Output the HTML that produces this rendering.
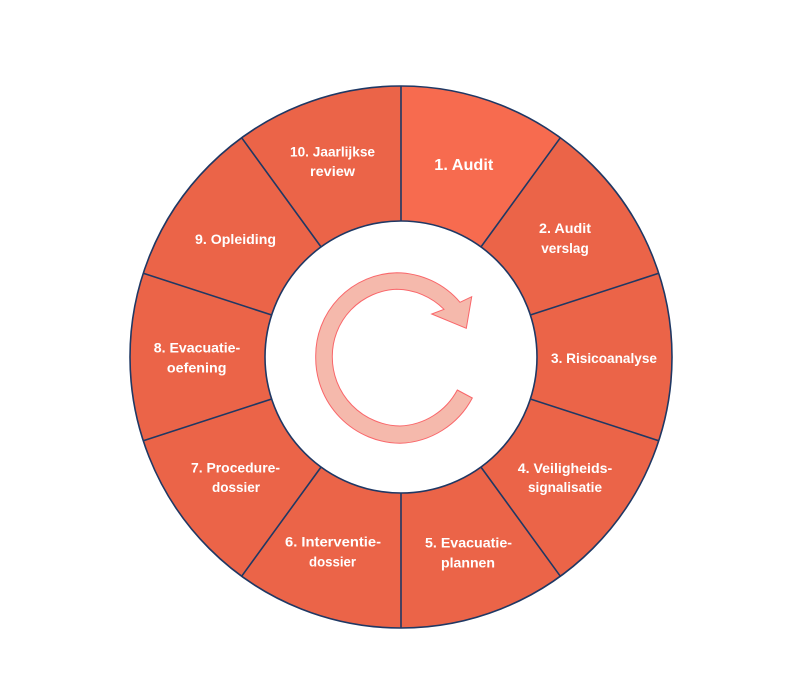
<!DOCTYPE html>
<html><head><meta charset="utf-8"><style>
html,body{margin:0;padding:0;background:#fff}
svg{display:block}
text{font-family:"Liberation Sans",sans-serif;font-weight:bold;font-size:13.6px;fill:#fff;text-anchor:middle}
</style></head><body>
<svg width="800" height="681" viewBox="0 0 800 681" xmlns="http://www.w3.org/2000/svg">
<circle cx="401" cy="357" r="271" fill="#EB6448"/>
<path d="M401 86A271 271 0 0 1 560.3 137.8L480.9 247A136 136 0 0 0 401 221Z" fill="#F76B4F"/>
<circle cx="401" cy="357" r="136" fill="#fff"/>
<g stroke="#1F3864" stroke-width="1.6" fill="none">
<circle cx="401" cy="357" r="271"/>
<circle cx="401" cy="357" r="136"/>
<path d="M401 86V221M401 493V628"/>
<path d="M560.3 137.8L480.9 247M241.7 576.2L321.1 467"/>
<path d="M658.7 273.3L530.3 315M143.3 440.7L271.7 399"/>
<path d="M658.7 440.7L530.3 399M143.3 273.3L271.7 315"/>
<path d="M560.3 576.2L480.9 467M241.7 137.8L321.1 247"/>
</g>
<path d="M457.3 390L472.3 398A85 85 0 0 1 400 443.3A85.5 85.5 0 0 1 315.7 356.7A83 83 0 0 1 396.7 272.7A84 84 0 0 1 460 302.3L471.7 296.7L466.3 328.3L431.7 314L444 309.3A68 68 0 0 0 396.7 289.3A67 67 0 0 0 332.3 356.7A69 69 0 0 0 400 426A68 68 0 0 0 457.3 390Z" fill="#F5B9AC" stroke="#F9666A" stroke-width="1"/>
<text x="463.8" y="170" style="font-size:16px" textLength="59" lengthAdjust="spacingAndGlyphs">1. Audit</text>
<text x="565" y="233" textLength="52" lengthAdjust="spacingAndGlyphs">2. Audit</text><text x="565" y="253" textLength="47.5" lengthAdjust="spacingAndGlyphs">verslag</text>
<text x="604" y="363" textLength="106" lengthAdjust="spacingAndGlyphs">3. Risicoanalyse</text>
<text x="565" y="473" textLength="94.5" lengthAdjust="spacingAndGlyphs">4. Veiligheids-</text><text x="565" y="492" textLength="74" lengthAdjust="spacingAndGlyphs">signalisatie</text>
<text x="468.5" y="547.7" textLength="87" lengthAdjust="spacingAndGlyphs">5. Evacuatie-</text><text x="468" y="567.7" textLength="54" lengthAdjust="spacingAndGlyphs">plannen</text>
<text x="333" y="546.7" textLength="96" lengthAdjust="spacingAndGlyphs">6. Interventie-</text><text x="332.5" y="566.7" textLength="47" lengthAdjust="spacingAndGlyphs">dossier</text>
<text x="235.5" y="472.7" textLength="89" lengthAdjust="spacingAndGlyphs">7. Procedure-</text><text x="236" y="492" textLength="48" lengthAdjust="spacingAndGlyphs">dossier</text>
<text x="197" y="352.7" textLength="86.5" lengthAdjust="spacingAndGlyphs">8. Evacuatie-</text><text x="196.7" y="372.5" textLength="59.5" lengthAdjust="spacingAndGlyphs">oefening</text>
<text x="235.5" y="244" textLength="81" lengthAdjust="spacingAndGlyphs">9. Opleiding</text>
<text x="332.5" y="156.7" textLength="85" lengthAdjust="spacingAndGlyphs">10. Jaarlijkse</text><text x="332.5" y="176" textLength="45" lengthAdjust="spacingAndGlyphs">review</text>
</svg>
</body></html>
